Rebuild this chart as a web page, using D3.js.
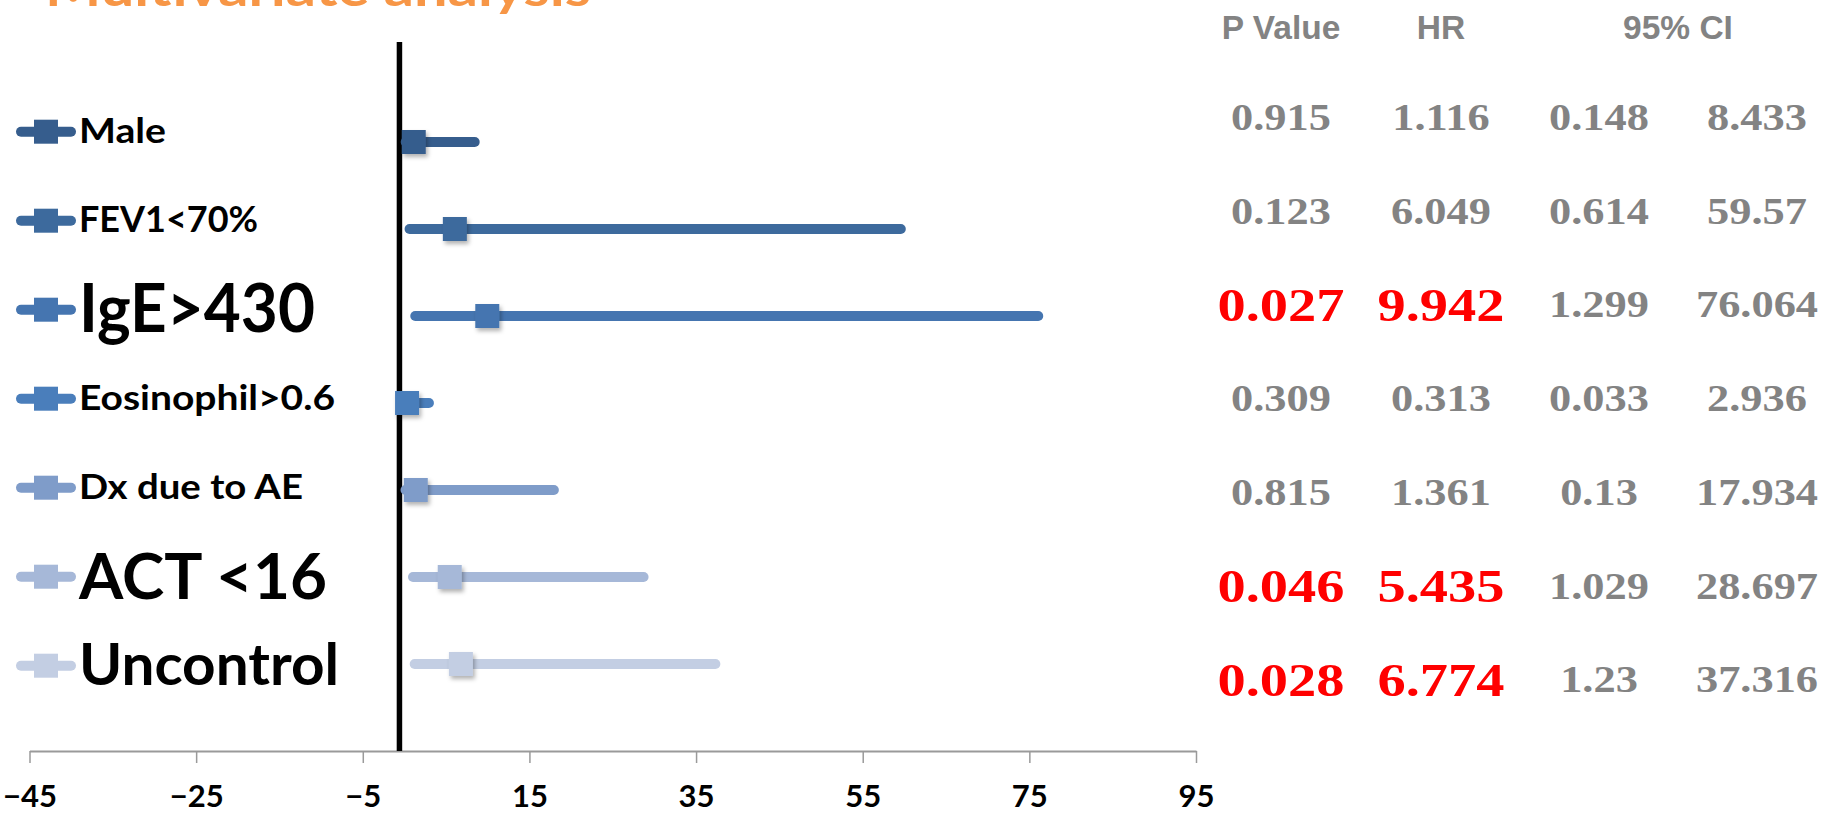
<!DOCTYPE html>
<html>
<head>
<meta charset="utf-8">
<script src="https://cdn.jsdelivr.net/npm/d3@7/dist/d3.min.js"></script>
<style>
  html, body { margin: 0; padding: 0; background: #ffffff; }
  svg { display: block; }
</style>
</head>
<body>
<svg id="chart" width="1835" height="814"></svg>
<script>
// Multivariate Cox regression results
const categories   = ["Male", "FEV1<70%", "IgE>430", "Eosinophil>0.6", "Dx due to AE", "ACT <16", "Uncontrol"];
const pValues      = [0.915, 0.123, 0.027, 0.309, 0.815, 0.046, 0.028];
const hazardRatios = [1.116, 6.049, 9.942, 0.313, 1.361, 5.435, 6.774];
const ciLower      = [0.148, 0.614, 1.299, 0.033, 0.13, 1.029, 1.23];
const ciUpper      = [8.433, 59.57, 76.064, 2.936, 17.934, 28.697, 37.316];
const xTicks       = [-45, -25, -5, 15, 35, 55, 75, 95];
const tableHeaders = ["P Value", "HR", "95% CI"];
const referenceValue = -0.6;
const significance = 0.05;

// styling per series
const seriesColors = ["#365d8d", "#3d6a9d", "#4575b0", "#4a7ebb", "#7f9cc9", "#a6b8d8", "#c3cee3"];
const labelSizes   = [35, 35.5, 66, 35, 34, 64, 57];
const labelWidths  = [87, 179, 236, 256, 224, 248, 260];

const svg = d3.select("#chart");

const defs = svg.append("defs");
const shadow = defs.append("filter").attr("id", "markerShadow")
  .attr("x", "-30%").attr("y", "-30%").attr("width", "170%").attr("height", "170%");
shadow.append("feDropShadow").attr("dx", 2).attr("dy", 3)
  .attr("stdDeviation", 2).attr("flood-color", "#000").attr("flood-opacity", 0.3);

// title (partly above the top edge)
svg.append("text")
  .attr("x", 45).attr("y", 6)
  .attr("font-family", "Lato, 'Open Sans', sans-serif")
  .attr("font-weight", 700).attr("font-size", 50)
  .attr("fill", "#f79646")
  .attr("textLength", 546).attr("lengthAdjust", "spacingAndGlyphs")
  .text("Multivariate analysis");

// scales
const x = d3.scaleLinear().domain([-45, 95]).range([29.5, 1196]);
const y = d3.scaleLinear().domain([0, 8]).range([751, 55]);
const rowValue = i => categories.length - i;

// x axis
const axis = svg.append("g")
  .attr("transform", `translate(0,${y(0)})`)
  .call(d3.axisBottom(x).tickValues(xTicks).tickSize(12).tickSizeOuter(0).tickFormat(d3.format("d")));
axis.select(".domain").attr("stroke", "#9a9a9a").attr("stroke-width", 2);
axis.selectAll(".tick line").attr("stroke", "#9a9a9a").attr("stroke-width", 1.5);
axis.selectAll(".tick text")
  .attr("y", 56).attr("dy", 0)
  .attr("font-family", "Lato, 'Open Sans', sans-serif")
  .attr("font-weight", 700).attr("font-size", 31)
  .attr("fill", "#000");

// reference line
svg.append("line")
  .attr("x1", x(referenceValue)).attr("x2", x(referenceValue))
  .attr("y1", 42).attr("y2", y(0))
  .attr("stroke", "#000").attr("stroke-width", 5.5);

// confidence intervals
const rows = svg.append("g").selectAll("g")
  .data(categories).join("g");

rows.append("line")
  .attr("x1", (d, i) => x(ciLower[i]))
  .attr("x2", (d, i) => x(ciUpper[i]))
  .attr("y1", (d, i) => y(rowValue(i)))
  .attr("y2", (d, i) => y(rowValue(i)))
  .attr("stroke", (d, i) => seriesColors[i])
  .attr("stroke-width", 10)
  .attr("stroke-linecap", "round");

// hazard ratio markers
const markerSize = 24;
rows.append("rect")
  .attr("x", (d, i) => x(hazardRatios[i]) - markerSize / 2)
  .attr("y", (d, i) => y(rowValue(i)) - markerSize / 2)
  .attr("width", markerSize).attr("height", markerSize)
  .attr("fill", (d, i) => seriesColors[i])
  .attr("filter", "url(#markerShadow)");

// legend
const legendY = i => 131.7 + 89 * i;
const legend = svg.append("g").selectAll("g")
  .data(categories).join("g")
  .attr("transform", (d, i) => `translate(0,${legendY(i)})`);

legend.append("line")
  .attr("x1", 21).attr("x2", 71).attr("y1", 0).attr("y2", 0)
  .attr("stroke", (d, i) => seriesColors[i])
  .attr("stroke-width", 10).attr("stroke-linecap", "round");
legend.append("rect")
  .attr("x", 46 - markerSize / 2).attr("y", -markerSize / 2)
  .attr("width", markerSize).attr("height", markerSize)
  .attr("fill", (d, i) => seriesColors[i]);
legend.append("text")
  .attr("x", 79)
  .attr("y", (d, i) => labelSizes[i] * 0.7165 / 2 - 1)
  .attr("font-family", "Lato, 'Open Sans', sans-serif")
  .attr("font-weight", 700)
  .attr("font-size", (d, i) => labelSizes[i])
  .attr("textLength", (d, i) => labelWidths[i])
  .attr("lengthAdjust", "spacingAndGlyphs")
  .attr("fill", "#000")
  .text(d => d);

// results table
const colCenters = [1281, 1441, 1599, 1757];
const tableRowY = i => 117.5 + 93.7 * i;
const gray = "#838383";
const red = "#ff0000";

const headerX = [colCenters[0], colCenters[1], (colCenters[2] + colCenters[3]) / 2];
svg.append("g").selectAll("text")
  .data(tableHeaders).join("text")
  .attr("x", (d, i) => headerX[i]).attr("y", 39)
  .attr("text-anchor", "middle")
  .attr("font-family", "'Liberation Sans', Arial, sans-serif")
  .attr("font-weight", 700).attr("font-size", 33.5)
  .attr("fill", gray)
  .text(d => d);

function cell(value, col, row, highlight) {
  const size = highlight ? 47 : 37;
  const baseline = tableRowY(row) + size * 0.676 / 2;
  svg.append("text")
    .attr("transform", `translate(${colCenters[col]},${baseline}) scale(1.2,1)`)
    .attr("text-anchor", "middle")
    .attr("font-family", "'Liberation Serif', 'Times New Roman', serif")
    .attr("font-weight", 700).attr("font-size", size)
    .attr("fill", highlight ? red : gray)
    .text(String(value));
}

categories.forEach((c, i) => {
  const sig = pValues[i] < significance;
  cell(pValues[i], 0, i, sig);
  cell(hazardRatios[i], 1, i, sig);
  cell(ciLower[i], 2, i, false);
  cell(ciUpper[i], 3, i, false);
});
</script>
</body>
</html>
